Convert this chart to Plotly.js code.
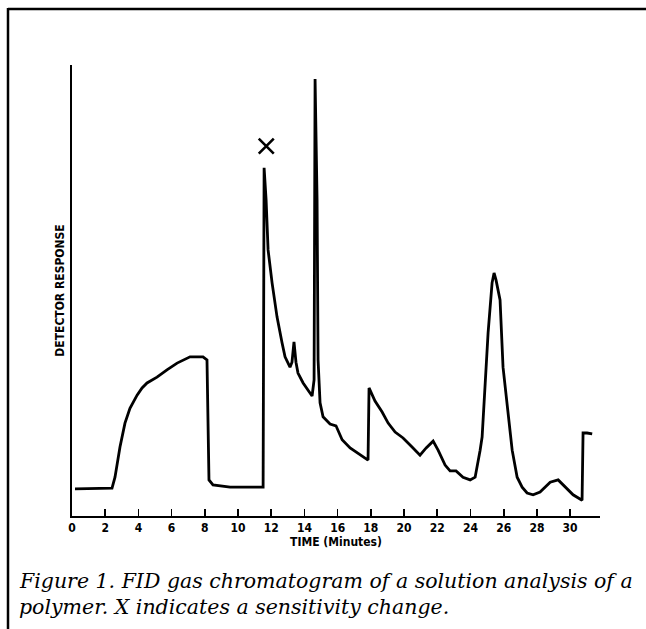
<!DOCTYPE html>
<html>
<head>
<meta charset="utf-8">
<script src="https://cdn.plot.ly/plotly-3.0.1.min.js"></script>
<style>html,body{margin:0;padding:0;background:#fff;}#chart{width:646px;height:629px;}</style>
</head>
<body>
<div id="chart"></div>
<script>
// Chromatogram trace: time (minutes) and detector response (arbitrary units, 0-100)
var timeMin = [0.18, 2.41, 2.59, 2.89, 3.19, 3.49, 3.92, 4.22, 4.52, 5.12, 5.72, 6.33, 7.11, 7.89, 8.13, 8.19, 8.25, 8.49, 9.52, 11.51,
  11.57, 11.69, 11.81, 12.05, 12.35, 12.65, 12.83, 13.13, 13.25, 13.37, 13.49, 13.61, 13.92, 14.46, 14.58,
  14.64, 14.76, 14.82, 14.94, 15.12, 15.54, 15.90, 16.27, 16.75, 17.35, 17.83, 17.89, 18.25, 18.67, 19.04,
  19.46, 19.94, 20.48, 20.96, 21.33, 21.75, 22.05, 22.47, 22.77, 23.13, 23.55, 23.98, 24.28, 24.46, 24.58,
  24.70, 24.88, 25.06, 25.30, 25.42, 25.54, 25.78, 25.96, 26.27, 26.51, 26.81, 27.11, 27.41, 27.77, 28.19,
  28.80, 29.28, 29.70, 30.18, 30.72, 30.78, 31.02, 31.33];
var response = [6.0, 6.2, 8.6, 15.3, 20.6, 23.9, 26.8, 28.4, 29.5, 30.8, 32.4, 33.9, 35.3, 35.3, 34.6, 21.3, 8.0, 6.9, 6.4, 6.4,
  77.2, 70.1, 59.0, 51.7, 44.1, 38.4, 35.3, 33.0, 34.1, 38.6, 34.1, 31.7, 29.5, 26.6, 30.2,
  96.9, 70.1, 34.6, 25.1, 22.0, 20.4, 20.0, 16.9, 15.1, 13.5, 12.4, 28.4, 25.5, 23.1, 20.6,
  18.6, 17.3, 15.3, 13.5, 15.1, 16.6, 14.6, 11.3, 10.0, 10.0, 8.6, 8.0, 8.6, 11.8, 14.6,
  17.5, 29.5, 40.6, 51.7, 53.9, 52.3, 47.9, 33.0, 22.0, 14.6, 8.6, 6.4, 5.1, 4.7, 5.3,
  7.5, 8.0, 6.4, 4.7, 3.5, 18.4, 18.4, 18.2];

// Sensitivity change marker "X"
var markerTime = [11.7];
var markerResponse = [82.0];

var tickVals = [0, 2, 4, 6, 8, 10, 12, 14, 16, 18, 20, 22, 24, 26, 28, 30];
var tickText = ["0", "2", "4", "6", "8", "10", "12", "14", "16", "18", "20", "22", "24", "26", "28", "30"];

var xTitle = "TIME (Minutes)";
var yTitle = "DETECTOR RESPONSE";
var captionLines = ["Figure 1. FID gas chromatogram of a solution analysis of a",
                    "polymer. X indicates a sensitivity change."];

var labelFont = {family: "Liberation Sans Narrow, DejaVu Sans Condensed, Arial Narrow, sans-serif", size: 12, color: "#000", weight: "bold"};
var captionFont = {family: "DejaVu Serif, Liberation Serif, serif", size: 20.5, color: "#000", style: "italic", weight: "normal"};

var traces = [
  {x: timeMin, y: response, mode: "lines", type: "scatter",
   line: {color: "#000", width: 2.8, shape: "linear"}, hoverinfo: "skip", cliponaxis: false},
  {x: markerTime, y: markerResponse, mode: "markers", type: "scatter",
   marker: {symbol: "x-thin", size: 15, line: {color: "#000", width: 2.6}}, hoverinfo: "skip", cliponaxis: false}
];

// pixel helpers for frame (plot area: x 72..600, y 65..516)
function px(x) { return (x - 72) / 528; }
function py(y) { return (516 - y) / 451; }

var layout = {
  width: 646, height: 629,
  margin: {l: 72, r: 46, t: 65, b: 113},
  paper_bgcolor: "#fff", plot_bgcolor: "#fff",
  showlegend: false,
  xaxis: {
    range: [0, 31.8], showgrid: false, zeroline: false,
    showline: true, linecolor: "#000", linewidth: 2,
    ticks: "inside", ticklen: 7, tickwidth: 1.6, tickcolor: "#000",
    tickmode: "array", tickvals: tickVals, ticktext: tickText,
    tickfont: labelFont,
    title: {text: xTitle, font: labelFont, standoff: 3}
  },
  yaxis: {
    range: [0, 100], showgrid: false, zeroline: false,
    showline: true, linecolor: "#000", linewidth: 2,
    ticks: "", showticklabels: false,
    title: {text: yTitle, font: labelFont, standoff: 3}
  },
  shapes: [
    {type: "line", xref: "paper", yref: "paper", x0: px(8), x1: px(646), y0: py(9), y1: py(9), line: {color: "#000", width: 2.5}},
    {type: "line", xref: "paper", yref: "paper", x0: px(8), x1: px(8), y0: py(8), y1: py(629), line: {color: "#000", width: 2.5}}
  ],
  annotations: [
    {xref: "paper", yref: "paper", x: px(18), y: py(581), xanchor: "left", yanchor: "middle", showarrow: false,
     borderpad: 0, text: captionLines[0], font: captionFont},
    {xref: "paper", yref: "paper", x: px(18), y: py(607), xanchor: "left", yanchor: "middle", showarrow: false,
     borderpad: 0, text: captionLines[1], font: captionFont}
  ]
};

Plotly.newPlot("chart", traces, layout, {displayModeBar: false, staticPlot: true});
</script>
</body>
</html>
